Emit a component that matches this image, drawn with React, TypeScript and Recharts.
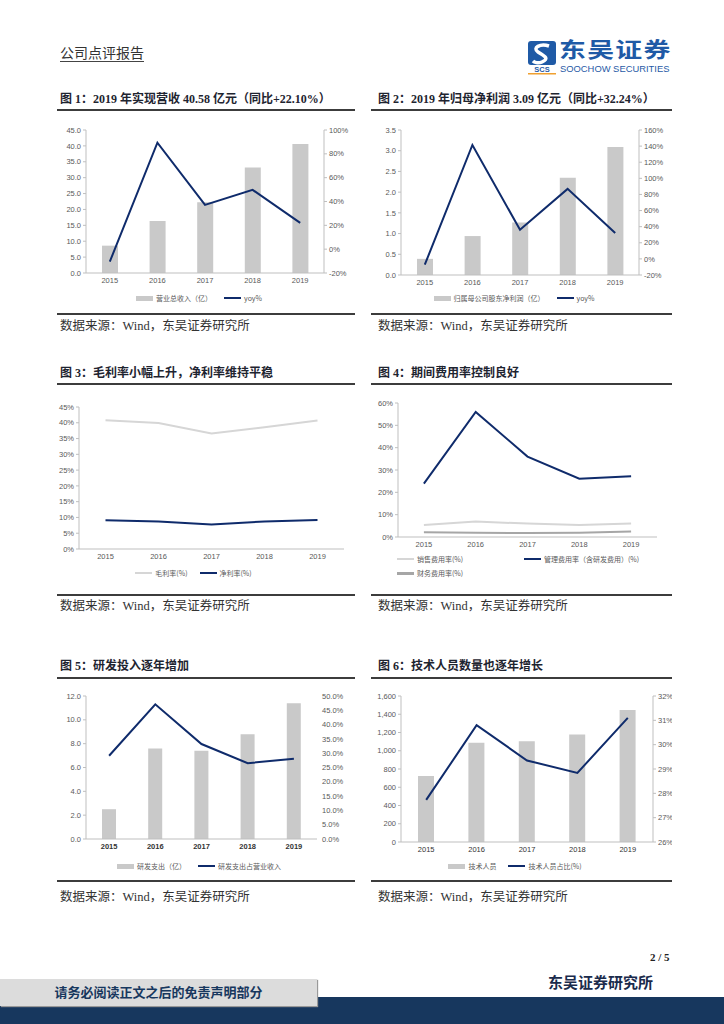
import React from "react";
import { ComposedChart, Bar, Line, XAxis, YAxis, Legend } from "recharts";

const years = ["2015", "2016", "2017", "2018", "2019"];

// 图1 营业总收入（亿）+ yoy%
const revenue = [8.6, 16.4, 22.3, 33.2, 40.58];
const revenueYoy = [-10.5, 89.4, 37.2, 49.8, 22.1];
const revenueTicks = [0, 5, 10, 15, 20, 25, 30, 35, 40, 45];
const revenueYoyTicks = [-20, 0, 20, 40, 60, 80, 100];

// 图2 归母净利润（亿）+ yoy%
const netProfit = [0.39, 0.94, 1.27, 2.35, 3.09];
const netProfitYoy = [-7.2, 141.4, 36.2, 86.9, 32.24];
const netProfitTicks = [0, 0.5, 1, 1.5, 2, 2.5, 3, 3.5];
const netProfitYoyTicks = [-20, 0, 20, 40, 60, 80, 100, 120, 140, 160];

// 图3 毛利率 / 净利率
const grossMargin = [40.8, 39.9, 36.6, 38.6, 40.7];
const netMargin = [9.1, 8.7, 7.8, 8.7, 9.2];
const marginTicks = [0, 5, 10, 15, 20, 25, 30, 35, 40, 45];

// 图4 期间费用率
const sellingRate = [5.4, 6.9, 6.0, 5.4, 6.1];
const adminRate = [23.9, 56.0, 36.0, 26.1, 27.2];
const financeRate = [2.1, 1.9, 1.8, 1.9, 2.5];
const expenseTicks = [0, 10, 20, 30, 40, 50, 60];

// 图5 研发支出
const rdSpend = [2.5, 7.6, 7.4, 8.8, 11.4];
const rdRatio = [29.1, 47.1, 33.2, 26.5, 28.1];
const rdTicks = [0, 2, 4, 6, 8, 10, 12];
const rdRatioTicks = [0, 5, 10, 15, 20, 25, 30, 35, 40, 45, 50];

// 图6 技术人员
const techStaff = [724, 1087, 1105, 1178, 1447];
const techRatio = [27.73, 30.8, 29.35, 28.84, 31.1];
const staffTicks = [0, 200, 400, 600, 800, 1000, 1200, 1400, 1600];
const staffRatioTicks = [26, 27, 28, 29, 30, 31, 32];

const NAVY = "#0f2b6b";
const BAR_GREY = "#c9c9c9";
const LIGHT_LINE = "#d6d6d6";
const DARK_GREY = "#a6a6a6";
const AXIS = "#bfbfbf";
const LOGO_BLUE = "#1f5aa6";
const SANS = '"Liberation Sans", Arial, sans-serif';
const CJK = '"Liberation Serif", "Noto Sans CJK SC", serif';
const TICK = { fontSize: 7.5, fill: "#595959", fontFamily: SANS };

type LegendItem = { label: string; color: string; kind: "bar" | "line"; thick?: number };

const LegendRow = ({
  items,
  itemWidth,
  paddingLeft = 0,
}: {
  items: LegendItem[];
  itemWidth?: number;
  paddingLeft?: number;
}) => (
  <div
    style={{
      display: "flex",
      flexWrap: "wrap",
      justifyContent: itemWidth ? "flex-start" : "center",
      paddingLeft,
      fontSize: 7,
      color: "#595959",
      fontFamily: '"Noto Sans CJK SC", sans-serif',
    }}
  >
    {items.map((it) => (
      <div
        key={it.label}
        style={{
          display: "flex",
          alignItems: "center",
          height: 14,
          width: itemWidth,
          marginRight: itemWidth ? 0 : 12,
        }}
      >
        <span
          style={{
            display: "inline-block",
            width: 17,
            height: it.kind === "bar" ? 5 : it.thick ?? 2.5,
            background: it.color,
            marginRight: 3,
          }}
        />
        <span>{it.label}</span>
      </div>
    ))}
  </div>
);

type BarLineProps = {
  left: number;
  top: number;
  width: number;
  height: number;
  margin: { top: number; right: number; bottom: number; left: number };
  xHeight: number;
  leftWidth: number;
  rightWidth: number;
  bars: number[];
  line: number[];
  leftTicks: number[];
  rightTicks: number[];
  leftFmt: (v: number) => string;
  rightFmt: (v: number) => string;
  barSize: number;
  rightLine: boolean;
  legend: LegendItem[];
  xTick?: any;
};

const BarLineChart = (p: BarLineProps) => {
  const data = years.map((year, i) => ({ year, bar: p.bars[i], line: p.line[i] }));
  return (
    <div style={{ position: "absolute", left: p.left, top: p.top }}>
      <ComposedChart width={p.width} height={p.height} data={data} margin={p.margin}>
        <XAxis
          dataKey="year"
          height={p.xHeight}
          axisLine={{ stroke: AXIS }}
          tickLine={false}
          tickSize={3}
          tickMargin={2}
          tick={p.xTick ?? TICK}
          interval={0}
        />
        <YAxis
          yAxisId="l"
          width={p.leftWidth}
          domain={[p.leftTicks[0], p.leftTicks[p.leftTicks.length - 1]]}
          ticks={p.leftTicks}
          interval={0}
          tickFormatter={p.leftFmt}
          axisLine={{ stroke: AXIS }}
          tickLine={{ stroke: AXIS }}
          tickSize={3}
          tickMargin={2}
          tick={TICK}
        />
        <YAxis
          yAxisId="r"
          orientation="right"
          width={p.rightWidth}
          domain={[p.rightTicks[0], p.rightTicks[p.rightTicks.length - 1]]}
          ticks={p.rightTicks}
          interval={0}
          tickFormatter={p.rightFmt}
          axisLine={p.rightLine ? { stroke: AXIS } : false}
          tickLine={p.rightLine ? { stroke: AXIS } : false}
          tickSize={3}
          tickMargin={2}
          tick={TICK}
        />
        <Bar yAxisId="l" dataKey="bar" fill={BAR_GREY} barSize={p.barSize} isAnimationActive={false} />
        <Line
          yAxisId="r"
          type="linear"
          dataKey="line"
          stroke={NAVY}
          strokeWidth={2}
          dot={false}
          isAnimationActive={false}
        />
        <Legend verticalAlign="bottom" content={() => <LegendRow items={p.legend} />} />
      </ComposedChart>
    </div>
  );
};

const MarginChart = () => {
  const data = years.map((year, i) => ({ year, gross: grossMargin[i], net: netMargin[i] }));
  return (
    <div style={{ position: "absolute", left: 55, top: 390 }}>
      <ComposedChart width={300} height={195} data={data} margin={{ top: 17, right: 11, bottom: 5, left: 0 }}>
        <XAxis
          dataKey="year"
          scale="band"
          height={17}
          axisLine={{ stroke: AXIS }}
          tickLine={false}
          tickSize={3}
          tickMargin={2}
          tick={TICK}
          interval={0}
        />
        <YAxis
          width={24}
          domain={[0, 45]}
          ticks={marginTicks}
          interval={0}
          tickFormatter={(v: number) => `${v}%`}
          axisLine={{ stroke: AXIS }}
          tickLine={{ stroke: AXIS }}
          tickSize={3}
          tickMargin={2}
          tick={TICK}
        />
        <Line type="linear" dataKey="gross" stroke={LIGHT_LINE} strokeWidth={2} dot={false} isAnimationActive={false} />
        <Line type="linear" dataKey="net" stroke={NAVY} strokeWidth={2} dot={false} isAnimationActive={false} />
        <Legend
          verticalAlign="bottom"
          content={() => (
            <LegendRow
              items={[
                { label: "毛利率(%)", color: LIGHT_LINE, kind: "line" },
                { label: "净利率(%)", color: NAVY, kind: "line" },
              ]}
            />
          )}
        />
      </ComposedChart>
    </div>
  );
};

const ExpenseChart = () => {
  const data = years.map((year, i) => ({
    year,
    selling: sellingRate[i],
    admin: adminRate[i],
    finance: financeRate[i],
  }));
  return (
    <div style={{ position: "absolute", left: 370, top: 390 }}>
      <ComposedChart width={300} height={195} data={data} margin={{ top: 13, right: 13, bottom: 5, left: 0 }}>
        <XAxis
          dataKey="year"
          scale="band"
          height={15}
          axisLine={{ stroke: AXIS }}
          tickLine={false}
          tickSize={3}
          tickMargin={2}
          tick={TICK}
          interval={0}
        />
        <YAxis
          width={28}
          domain={[0, 60]}
          ticks={expenseTicks}
          interval={0}
          tickFormatter={(v: number) => `${v}%`}
          axisLine={{ stroke: AXIS }}
          tickLine={{ stroke: AXIS }}
          tickSize={3}
          tickMargin={2}
          tick={TICK}
        />
        <Line type="linear" dataKey="selling" stroke={LIGHT_LINE} strokeWidth={2} dot={false} isAnimationActive={false} />
        <Line type="linear" dataKey="admin" stroke={NAVY} strokeWidth={2} dot={false} isAnimationActive={false} />
        <Line type="linear" dataKey="finance" stroke={DARK_GREY} strokeWidth={2} dot={false} isAnimationActive={false} />
        <Legend
          verticalAlign="bottom"
          content={() => (
            <LegendRow
              itemWidth={127}
              paddingLeft={27}
              items={[
                { label: "销售费用率(%)", color: LIGHT_LINE, kind: "line" },
                { label: "管理费用率（含研发费用）(%)", color: NAVY, kind: "line" },
                { label: "财务费用率(%)", color: DARK_GREY, kind: "line", thick: 3 },
              ]}
            />
          )}
        />
      </ComposedChart>
    </div>
  );
};

const abs = (left: number, top: number, extra: React.CSSProperties = {}): React.CSSProperties => ({
  position: "absolute",
  left,
  top,
  whiteSpace: "nowrap",
  ...extra,
});

const Title = ({ x, y, text }: { x: number; y: number; text: string }) => (
  <div style={abs(x, y - 7, { fontSize: 12, lineHeight: "14px", fontWeight: 700, color: "#1e2430", fontFamily: CJK })}>
    {text}
  </div>
);

const Rule = ({ x, y, w }: { x: number; y: number; w: number }) => (
  <div style={abs(x, y - 1, { width: w, height: 2, background: "#3c3c3c" })} />
);

const Source = ({ x, y }: { x: number; y: number }) => (
  <div style={abs(x, y - 8, { fontSize: 12.5, lineHeight: "16px", color: "#333", fontFamily: CJK })}>
    数据来源：Wind，东吴证券研究所
  </div>
);

const Logo = () => (
  <>
    <svg style={abs(526, 38)} width={32} height={38}>
      <rect x={2} y={3} width={28} height={24} rx={3} fill={LOGO_BLUE} />
      <path
        d="M23 8 C 14 5, 6 10, 12 14 C 18 18, 24 20, 16 24 C 12 26, 8 24, 7 23"
        stroke="#fff"
        strokeWidth={3.5}
        fill="none"
      />
      <text x={16} y={34} textAnchor="middle" fontSize={7.5} fontWeight={700} fill={LOGO_BLUE} fontFamily={SANS}>
        SCS
      </text>
      <rect x={2} y={35} width={28} height={1.5} fill="#f0a030" />
    </svg>
    <div
      style={abs(559, 38, {
        fontSize: 21,
        lineHeight: "21px",
        fontWeight: 700,
        letterSpacing: 1,
        color: LOGO_BLUE,
        transform: "scaleX(1.28)",
        transformOrigin: "left center",
        fontFamily: '"Noto Sans CJK SC", sans-serif',
      })}
    >
      东吴证券
    </div>
    <div style={abs(560, 64, { fontSize: 9.4, lineHeight: "10px", color: LOGO_BLUE, fontFamily: SANS })}>
      SOOCHOW SECURITIES
    </div>
  </>
);

export default function App() {
  return (
    <div
      style={{
        position: "absolute",
        left: 0,
        top: 0,
        width: 724,
        height: 1024,
        background: "#fff",
        overflow: "hidden",
        fontFamily: CJK,
      }}
    >
      <div
        style={abs(60, 44, {
          fontSize: 14,
          lineHeight: "16px",
          color: "#333",
          borderBottom: "1px solid #444",
          paddingBottom: 1,
          fontFamily: '"Noto Sans CJK SC", sans-serif',
        })}
      >
        公司点评报告
      </div>
      <Logo />

      <Title x={60} y={99} text="图 1：2019 年实现营收 40.58 亿元（同比+22.10%）" />
      <Title x={378} y={99} text="图 2：2019 年归母净利润 3.09 亿元（同比+32.24%）" />
      <Rule x={57} y={110} w={298} />
      <Rule x={371} y={110} w={301} />

      <BarLineChart
        left={55}
        top={115}
        width={300}
        height={195}
        margin={{ top: 15, right: 0, bottom: 5, left: 0 }}
        xHeight={18}
        leftWidth={31}
        rightWidth={31}
        bars={revenue}
        line={revenueYoy}
        leftTicks={revenueTicks}
        rightTicks={revenueYoyTicks}
        leftFmt={(v) => v.toFixed(1)}
        rightFmt={(v) => `${v}%`}
        barSize={16}
        rightLine
        legend={[
          { label: "营业总收入（亿）", color: BAR_GREY, kind: "bar" },
          { label: "yoy%", color: NAVY, kind: "line" },
        ]}
      />
      <BarLineChart
        left={370}
        top={115}
        width={300}
        height={195}
        margin={{ top: 15, right: 0, bottom: 5, left: 0 }}
        xHeight={16}
        leftWidth={31}
        rightWidth={31}
        bars={netProfit}
        line={netProfitYoy}
        leftTicks={netProfitTicks}
        rightTicks={netProfitYoyTicks}
        leftFmt={(v) => v.toFixed(1)}
        rightFmt={(v) => `${v}%`}
        barSize={16}
        rightLine
        legend={[
          { label: "归属母公司股东净利润（亿）", color: BAR_GREY, kind: "bar" },
          { label: "yoy%", color: NAVY, kind: "line" },
        ]}
      />

      <Rule x={57} y={314} w={298} />
      <Rule x={371} y={314} w={301} />
      <Source x={60} y={326} />
      <Source x={378} y={326} />

      <Title x={60} y={373} text="图 3：毛利率小幅上升，净利率维持平稳" />
      <Title x={378} y={373} text="图 4：期间费用率控制良好" />
      <Rule x={57} y={384} w={298} />
      <Rule x={371} y={384} w={301} />

      <MarginChart />
      <ExpenseChart />

      <Rule x={57} y={595} w={298} />
      <Rule x={371} y={595} w={301} />
      <Source x={60} y={606} />
      <Source x={378} y={606} />

      <Title x={60} y={666} text="图 5：研发投入逐年增加" />
      <Title x={378} y={666} text="图 6：技术人员数量也逐年增长" />
      <Rule x={57} y={678} w={298} />
      <Rule x={371} y={678} w={301} />

      <BarLineChart
        left={55}
        top={685}
        width={300}
        height={195}
        margin={{ top: 11, right: 0, bottom: 7, left: 0 }}
        xHeight={20}
        leftWidth={31}
        rightWidth={38}
        bars={rdSpend}
        line={rdRatio}
        leftTicks={rdTicks}
        rightTicks={rdRatioTicks}
        leftFmt={(v) => v.toFixed(1)}
        rightFmt={(v) => `${v.toFixed(1)}%`}
        barSize={14}
        rightLine={false}
        xTick={{ ...TICK, fill: "#333", fontWeight: 700 }}
        legend={[
          { label: "研发支出（亿）", color: BAR_GREY, kind: "bar" },
          { label: "研发支出占营业收入", color: NAVY, kind: "line" },
        ]}
      />
      <BarLineChart
        left={370}
        top={685}
        width={302}
        height={195}
        margin={{ top: 11, right: 0, bottom: 7, left: 0 }}
        xHeight={17}
        leftWidth={31}
        rightWidth={19}
        bars={techStaff}
        line={techRatio}
        leftTicks={staffTicks}
        rightTicks={staffRatioTicks}
        leftFmt={(v) => v.toLocaleString("en-US")}
        rightFmt={(v) => `${v}%`}
        barSize={16}
        rightLine
        xTick={{ ...TICK, fill: "#333" }}
        legend={[
          { label: "技术人员", color: BAR_GREY, kind: "bar" },
          { label: "技术人员占比(%)", color: NAVY, kind: "line" },
        ]}
      />

      <Rule x={57} y={881} w={298} />
      <Rule x={371} y={881} w={301} />
      <Source x={60} y={897} />
      <Source x={378} y={897} />

      <div style={abs(650, 950, { fontSize: 11, lineHeight: "14px", fontWeight: 700, color: "#222" })}>2 / 5</div>
      <div style={abs(548, 975, { fontSize: 15, lineHeight: "16px", fontWeight: 700, color: "#1a2b4c" })}>
        东吴证券研究所
      </div>
      <div style={abs(0, 997, { width: 724, height: 27, background: "#17375e" })} />
      <div
        style={abs(0, 979, {
          width: 317,
          height: 27,
          background: "#dcdcdc",
          boxShadow: "1px 1px 1px #999",
          fontSize: 13,
          lineHeight: "27px",
          fontWeight: 700,
          color: "#17375e",
          textAlign: "center",
        })}
      >
        请务必阅读正文之后的免责声明部分
      </div>
    </div>
  );
}
